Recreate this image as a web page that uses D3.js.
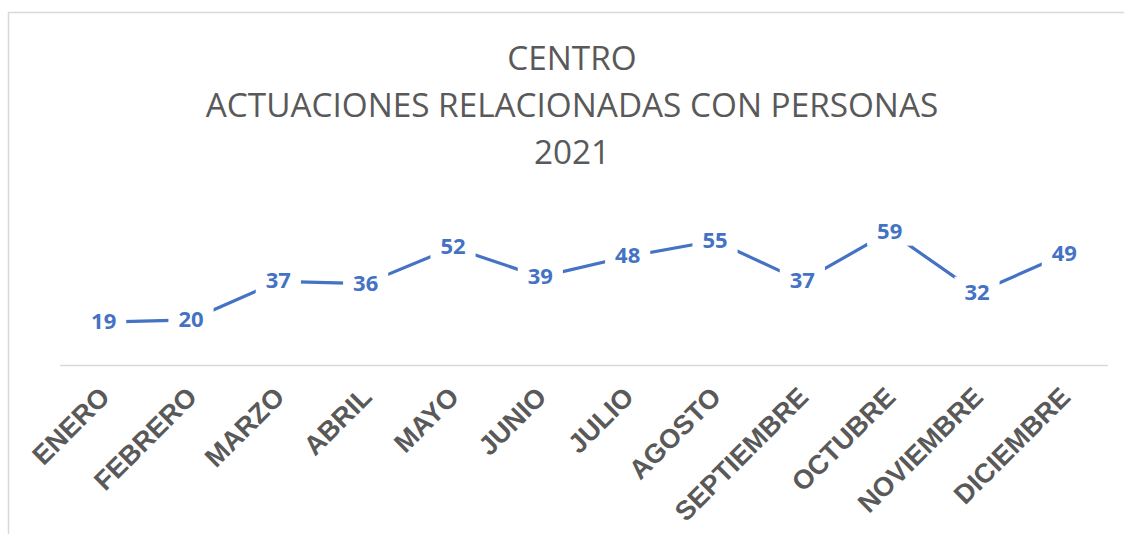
<!DOCTYPE html>
<html>
<head>
<meta charset="utf-8">
<script src="https://cdn.jsdelivr.net/npm/d3@7"></script>
<style>
  body { margin: 0; background: #fff; }
</style>
</head>
<body>
<div id="chart"></div>
<script>
const months = ["ENERO", "FEBRERO", "MARZO", "ABRIL", "MAYO", "JUNIO", "JULIO",
  "AGOSTO", "SEPTIEMBRE", "OCTUBRE", "NOVIEMBRE", "DICIEMBRE"];
const values = [19, 20, 37, 36, 52, 39, 48, 55, 37, 59, 32, 49];
const titleLines = ["CENTRO", "ACTUACIONES RELACIONADAS CON PERSONAS", "2021"];

const width = 1124, height = 534;
const blue = "#4472C4", grey = "#595959";

const svg = d3.select("#chart").append("svg")
  .attr("width", width)
  .attr("height", height)
  .attr("viewBox", [0, 0, width, height]);

// chart frame (only left and top edges show in the crop)
svg.append("rect")
  .attr("x", 8.5).attr("y", 12.5)
  .attr("width", 1140).attr("height", 560)
  .attr("fill", "none")
  .attr("stroke", "#d9d9d9")
  .attr("stroke-width", 1.5);

// title
svg.append("g")
  .selectAll("text")
  .data(titleLines)
  .join("text")
  .attr("x", 572)
  .attr("y", (d, i) => 70 + i * 47)
  .attr("text-anchor", "middle")
  .attr("font-family", "'Open Sans', sans-serif")
  .attr("font-size", 33.3)
  .attr("fill", grey)
  .text(d => d);

const x = d3.scaleBand().domain(months).range([60, 1108]);
const y = d3.scaleLinear().domain([0, 70]).range([365, 206.8]);
const cx = d => x(d) + x.bandwidth() / 2;

// category axis line
svg.append("line")
  .attr("x1", 60).attr("x2", 1108)
  .attr("y1", 365.5).attr("y2", 365.5)
  .attr("stroke", "#d9d9d9")
  .attr("stroke-width", 1.5);

// category labels
svg.append("g")
  .selectAll("text")
  .data(months)
  .join("text")
  .attr("transform", d => `translate(${cx(d) + 1},392)rotate(-45)`)
  .attr("text-anchor", "end")
  .attr("dy", "0.35em")
  .attr("font-family", "'Liberation Sans', Arial, sans-serif")
  .attr("font-weight", "bold")
  .attr("font-size", 27)
  .attr("fill", grey)
  .text(d => d);

// line
const line = d3.line()
  .x((d, i) => cx(months[i]))
  .y(d => y(d));

svg.append("path")
  .datum(values)
  .attr("d", line)
  .attr("fill", "none")
  .attr("stroke", blue)
  .attr("stroke-width", 3.2)
  .attr("stroke-linejoin", "round");

// data labels with white backing that breaks the line
const labels = svg.append("g")
  .selectAll("g")
  .data(values)
  .join("g")
  .attr("transform", (d, i) => `translate(${cx(months[i])},${y(d) - 1})`);

labels.append("text")
  .attr("text-anchor", "middle")
  .attr("dy", "0.36em")
  .attr("font-family", "'Open Sans', sans-serif")
  .attr("font-weight", "bold")
  .attr("font-size", 22)
  .attr("fill", blue)
  .text(d => d);

labels.insert("rect", "text")
  .each(function () {
    const bb = this.parentNode.querySelector("text").getBBox();
    d3.select(this)
      .attr("x", bb.x - 10)
      .attr("y", -15)
      .attr("width", bb.width + 20)
      .attr("height", 30)
      .attr("fill", "#fff");
  });
</script>
</body>
</html>
